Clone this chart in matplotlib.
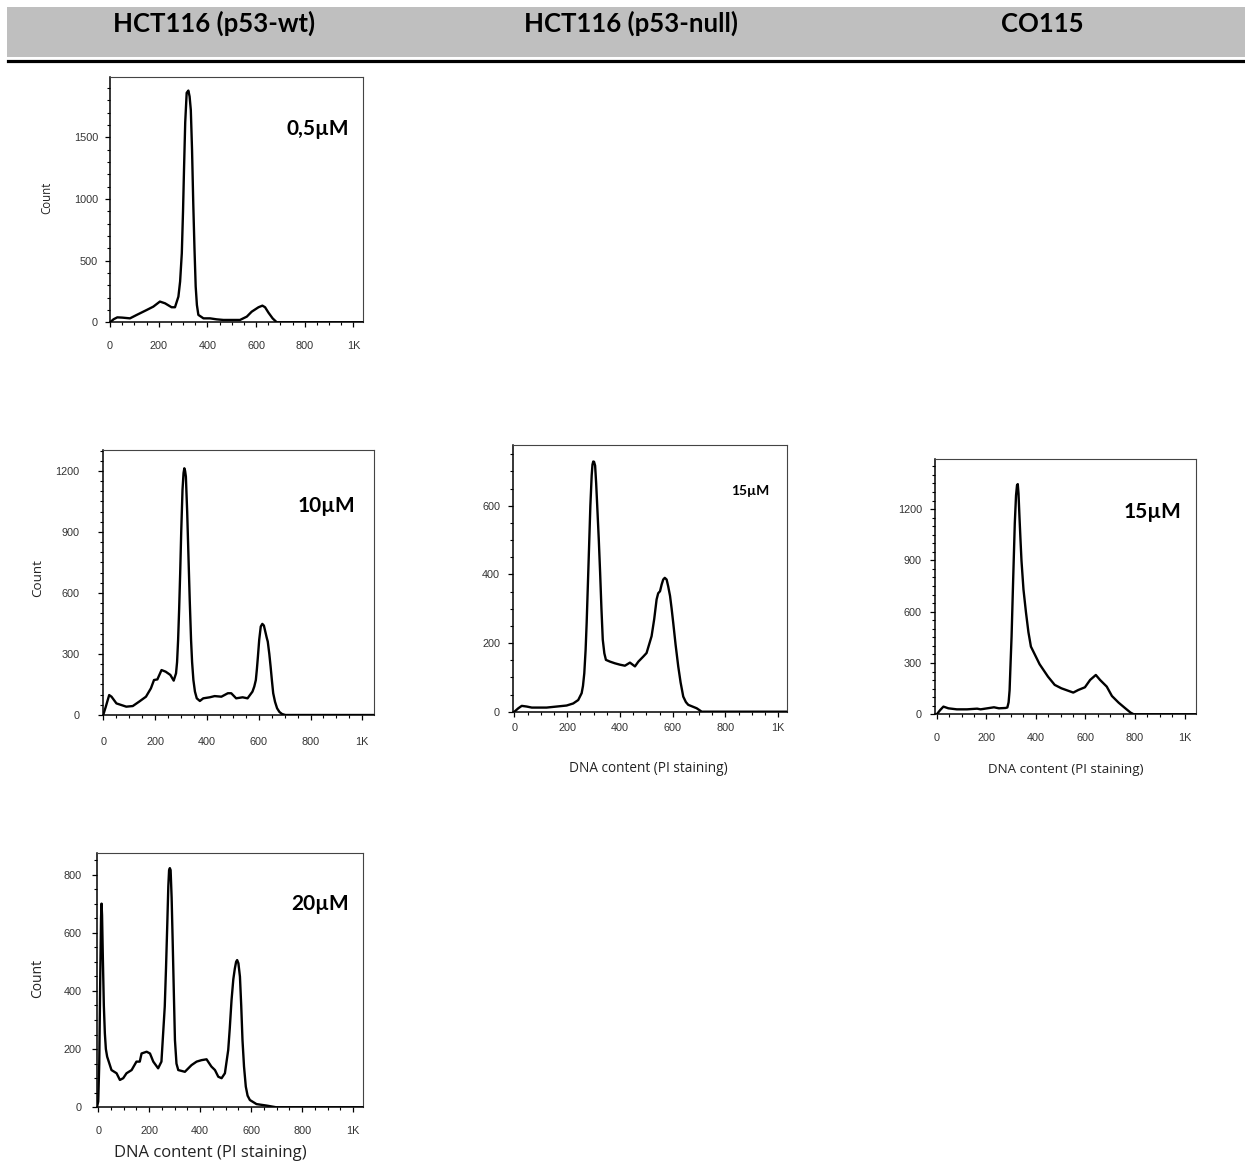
import matplotlib
matplotlib.use("Agg")
import matplotlib.pyplot as plt
from matplotlib.ticker import FixedLocator, MultipleLocator, FixedFormatter
from matplotlib.patches import Rectangle
from matplotlib.lines import Line2D

# ---------------------------------------------------------------- data
cell_lines = ["HCT116 (p53-wt)", "HCT116 (p53-null)", "CO115"]
x_ticks = [0, 200, 400, 600, 800, 1000]
x_tick_labels = ["0", "200", "400", "600", "800", "1K"]

# HCT116 (p53-wt), 0,5µM
wt05_dna = [0, 15, 30, 50, 82, 110, 151, 178, 205, 226, 253, 267, 281, 288,
            295, 300, 304, 309, 315, 322, 327, 332, 337, 342, 347, 352, 357,
            363, 384, 411, 438, 466, 534, 562, 582, 610, 626, 637, 651, 668,
            685, 1040]
wt05_count = [0, 25, 40, 38, 32, 60, 100, 127, 168, 154, 122, 122, 208, 330,
              560, 900, 1235, 1620, 1860, 1878, 1830, 1720, 1400, 965, 600,
              290, 140, 60, 32, 32, 24, 19, 19, 46, 86, 122, 135, 122, 78, 32,
              0, 0]

# HCT116 (p53-wt), 10µM
wt10_dna = [0, 10, 23, 32, 51, 89, 114, 139, 165, 184, 196, 209, 225, 241,
            259, 272, 281, 285, 289, 293, 297, 301, 306, 310, 313, 316, 319,
            324, 329, 334, 339, 343, 348, 354, 361, 373, 386, 411, 430, 456,
            481, 494, 513, 538, 557, 576, 583, 589, 593, 597, 602, 608, 614,
            620, 627, 631, 635, 641, 646, 651, 656, 663, 671, 680, 690, 703,
            1045]
wt10_count = [0, 41, 98, 90, 57, 41, 44, 66, 90, 131, 172, 175, 221, 213,
              197, 169, 205, 260, 369, 520, 697, 900, 1107, 1190, 1213, 1200,
              1172, 1000, 779, 560, 369, 260, 172, 115, 82, 69, 82, 87, 93, 90,
              107, 107, 82, 87, 82, 115, 140, 172, 225, 287, 370, 435, 448,
              440, 402, 380, 361, 300, 238, 170, 107, 65, 33, 15, 5, 0,
              0]

# HCT116 (p53-wt), 20µM
wt20_dna = [-5, 0, 4, 8, 11, 13, 15, 18, 22, 26, 30, 35, 52, 72, 85, 98, 111,
            131, 150, 163, 170, 190, 203, 216, 235, 248, 261, 266, 271, 275,
            278, 281, 284, 288, 292, 297, 301, 307, 314, 340, 366, 386, 405,
            425, 444, 458, 471, 484, 497, 510, 516, 523, 530, 536, 541, 545,
            550, 556, 561, 566, 572, 579, 586, 595, 621, 660, 699, 1040]
wt20_count = [0, 20, 150, 450, 650, 700, 660, 520, 350, 254, 200, 174, 128,
              117, 94, 100, 117, 128, 157, 157, 185, 191, 185, 157, 134, 157,
              346, 480, 632, 760, 815, 822, 815, 720, 574, 380, 231, 150, 128,
              122, 145, 157, 162, 165, 140, 128, 105, 100, 117, 197, 270, 368,
              440, 477, 500, 506, 495, 449, 350, 231, 140, 71, 40, 25, 11, 6,
              0, 0]

# HCT116 (p53-null), 15µM
null15_dna = [0, 15, 28, 47, 66, 122, 160, 198, 223, 242, 255, 260, 265, 270,
              274, 279, 284, 288, 293, 296, 299, 302, 306, 310, 314, 320, 325,
              330, 335, 341, 347, 362, 381, 400, 419, 438, 457, 470, 489, 501,
              520, 530, 539, 545, 552, 558, 564, 570, 577, 583, 590, 596, 602,
              611, 621, 630, 640, 650, 659, 691, 710, 1035]
null15_count = [0, 10, 17, 15, 12, 12, 15, 18, 24, 34, 54, 75, 112, 180, 259,
                380, 502, 600, 688, 720, 729, 728, 717, 665, 600, 500, 405, 300,
                210, 170, 151, 146, 141, 137, 134, 143, 132, 146, 161, 171, 220,
                270, 327, 345, 351, 370, 385, 390, 385, 365, 337, 300, 259, 195,
                132, 85, 44, 28, 20, 10, 0, 0]

# CO115, 15µM
co15_dna = [0, 14, 27, 47, 81, 122, 163, 177, 204, 231, 251, 278, 285, 290,
            294, 298, 302, 308, 315, 320, 324, 327, 330, 334, 338, 342, 350,
            360, 370, 380, 415, 449, 476, 503, 551, 571, 598, 619, 642, 659,
            686, 707, 734, 761, 782, 795, 1045]
co15_count = [0, 25, 45, 35, 29, 29, 33, 29, 35, 41, 35, 37, 40, 70, 140, 300,
              455, 767, 1118, 1280, 1340, 1346, 1290, 1150, 1020, 898, 730,
              597, 480, 396, 293, 220, 172, 152, 127, 142, 158, 201, 230, 201,
              162, 107, 68, 35, 10, 0, 0]

# ---------------------------------------------------------------- layout
W, H = 1245, 1164


def fx(x):
    return x / W


def fy(y):
    return 1 - y / H


def box(left, top, right, bottom):
    return [fx(left), fy(bottom), (right - left) / W, (bottom - top) / H]


TICK_FONT = "Liberation Sans"
LABEL_FONT = "Open Sans"
TITLE_FONT = "Lato"

panels = [
    dict(dna=wt05_dna, count=wt05_count, rect=box(109.5, 77, 362.7, 322.3),
         xlim=(-2, 1038), ylim=(0, 1988), ymajor=500, yminor=100,
         xpad=10.3, ypad=4.8,
         conc="0,5µM", conc_xy=(317.5, 135), conc_size=15,
         ylabel_xy=(46.7, 197.7), ylabel_size=8.3),
    dict(dna=wt10_dna, count=wt10_count, rect=box(102.7, 450, 374, 715),
         xlim=(-2, 1045), ylim=(0, 1303), ymajor=300, yminor=50,
         xpad=12.5, ypad=13.3,
         conc="10µM", conc_xy=(326, 511.7), conc_size=15,
         ylabel_xy=(38, 578), ylabel_size=9.6),
    dict(dna=null15_dna, count=null15_count, rect=box(513.3, 445, 786.7, 711.7),
         xlim=(-4, 1032), ylim=(0, 777), ymajor=200, yminor=50,
         xpad=4.3, ypad=6,
         conc="15µM", conc_xy=(750.3, 495), conc_size=10,
         xlabel_xy=(648, 768), xlabel_size=9.8),
    dict(dna=co15_dna, count=co15_count, rect=box(935, 459.3, 1195.7, 714.3),
         xlim=(-7, 1045), ylim=(0, 1491), ymajor=300, yminor=50,
         xpad=10, ypad=6,
         conc="15µM", conc_xy=(1152.8, 518.3), conc_size=15,
         xlabel_xy=(1065.5, 770), xlabel_size=9.6),
    dict(dna=wt20_dna, count=wt20_count, rect=box(96.7, 852.7, 363.3, 1107.3),
         xlim=(-6, 1040), ylim=(0, 875), ymajor=200, yminor=50,
         xpad=10.3, ypad=7.3,
         conc="20µM", conc_xy=(319.7, 910), conc_size=15,
         ylabel_xy=(38, 978), ylabel_size=10,
         xlabel_xy=(210.5, 1153), xlabel_size=12),
]

fig = plt.figure(figsize=(W / 100, H / 100), dpi=100)
fig.patch.set_facecolor("white")

# header band with the cell-line names
fig.patches.append(Rectangle((fx(7), fy(57)), (W - 7) / W, 50 / H,
                             transform=fig.transFigure, facecolor="#bfbfbf",
                             edgecolor="none", zorder=0))
fig.lines.append(Line2D([fx(8), 1.0], [fy(61), fy(61)],
                        transform=fig.transFigure, color="black", lw=2.3))
for name, cx in zip(cell_lines, [214, 631, 1042.5]):
    fig.text(fx(cx), fy(32), name, ha="center", va="baseline",
             family=TITLE_FONT, fontweight="bold", fontsize=18.5,
             color="black")

for p in panels:
    ax = fig.add_axes(p["rect"])
    ax.plot(p["dna"], p["count"], color="black", lw=1.7,
            solid_joinstyle="round", clip_on=True)
    ax.set_xlim(*p["xlim"])
    ax.set_ylim(*p["ylim"])

    ax.xaxis.set_major_locator(FixedLocator(x_ticks))
    ax.xaxis.set_major_formatter(FixedFormatter(x_tick_labels))
    ax.xaxis.set_minor_locator(MultipleLocator(50))
    ax.yaxis.set_major_locator(MultipleLocator(p["ymajor"]))
    ax.yaxis.set_minor_locator(MultipleLocator(p["yminor"]))

    ax.tick_params(which="major", direction="out", length=3.5, width=0.9,
                   color="black", labelsize=7.8, labelcolor="#333333")
    ax.tick_params(which="minor", direction="out", length=2, width=0.8,
                   color="black")
    ax.tick_params(axis="x", which="major", pad=p["xpad"])
    ax.tick_params(axis="y", which="major", pad=p["ypad"])
    for lab in ax.get_xticklabels() + ax.get_yticklabels():
        lab.set_family(TICK_FONT)

    for side in ("left", "bottom"):
        ax.spines[side].set_linewidth(1.1)
        ax.spines[side].set_color("black")
    for side in ("top", "right"):
        ax.spines[side].set_linewidth(0.8)
        ax.spines[side].set_color("#444444")

    cx, cy = p["conc_xy"]
    fig.text(fx(cx), fy(cy), p["conc"], ha="center", va="baseline",
             family=TITLE_FONT, fontweight="bold", fontsize=p["conc_size"],
             color="black")

    if "ylabel_xy" in p:
        lx, ly = p["ylabel_xy"]
        fig.text(fx(lx), fy(ly), "Count", rotation=90, ha="center",
                 va="center", family=LABEL_FONT, fontsize=p["ylabel_size"],
                 color="#222222")
    if "xlabel_xy" in p:
        lx, ly = p["xlabel_xy"]
        fig.text(fx(lx), fy(ly), "DNA content (PI staining)", ha="center",
                 va="center", family=LABEL_FONT, fontsize=p["xlabel_size"],
                 color="#222222")

fig.savefig("out.png", dpi=100)
